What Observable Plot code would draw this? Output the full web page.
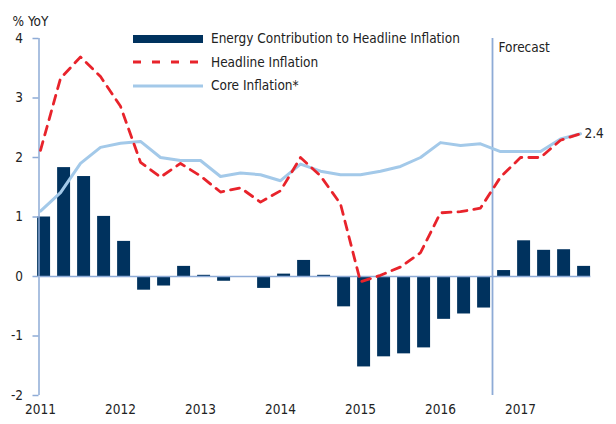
<!DOCTYPE html>
<html>
<head>
<meta charset="utf-8">
<script src="https://cdn.jsdelivr.net/npm/d3@7"></script>
<script src="https://cdn.jsdelivr.net/npm/@observablehq/plot@0.6"></script>
<style>
  body { margin: 0; background: #fff; }
  #wrap { position: relative; width: 616px; height: 424px; font-family: "Liberation Sans Narrow", "DejaVu Sans Condensed", "Roboto Condensed", "Liberation Sans", sans-serif; color: #222; }
  #legend { position: absolute; left: 133px; top: 27px; font-size: 13.5px; line-height: 23.5px; }
  #legend .row { display: flex; align-items: center; height: 23.5px; }
  #legend svg { margin-right: 8px; display: block; }
</style>
</head>
<body>
<div id="wrap"><div id="legend"></div></div>
<script>
const quarters = ["2011 Q1","2011 Q2","2011 Q3","2011 Q4","2012 Q1","2012 Q2","2012 Q3","2012 Q4",
  "2013 Q1","2013 Q2","2013 Q3","2013 Q4","2014 Q1","2014 Q2","2014 Q3","2014 Q4",
  "2015 Q1","2015 Q2","2015 Q3","2015 Q4","2016 Q1","2016 Q2","2016 Q3","2016 Q4",
  "2017 Q1","2017 Q2","2017 Q3","2017 Q4"];
const energy = [1.0, 1.83, 1.68, 1.01, 0.59, -0.23, -0.16, 0.17, 0.02, -0.08, 0, -0.2, 0.04, 0.27,
  0.02, -0.51, -1.52, -1.35, -1.30, -1.20, -0.72, -0.63, -0.53, 0.10, 0.60, 0.44, 0.45, 0.17];
const headline = [2.12, 3.33, 3.69, 3.36, 2.86, 1.92, 1.67, 1.9, 1.69, 1.42, 1.49, 1.25, 1.44, 2.0,
  1.69, 1.22, -0.09, 0.02, 0.16, 0.4, 1.07, 1.09, 1.15, 1.67, 2.0, 2.0, 2.29, 2.4];
const core = [1.1, 1.41, 1.9, 2.17, 2.24, 2.27, 2.0, 1.95, 1.95, 1.68, 1.74, 1.71, 1.61, 1.89,
  1.77, 1.71, 1.71, 1.77, 1.85, 2.0, 2.25, 2.2, 2.23, 2.1, 2.1, 2.1, 2.31, 2.4];
const yearTicks = [2011, 2012, 2013, 2014, 2015, 2016, 2017];
const yTicks = [-2, -1, 0, 1, 2, 3, 4];
const forecastStart = 2016.65;
const seriesNames = ["Energy Contribution to Headline Inflation", "Headline Inflation", "Core Inflation*"];

const navy = "#00325e", red = "#e8232b", lightBlue = "#a3c9e9", axisBlue = "#8eabd6";

const toT = q => +q.slice(0, 4) + (+q.slice(6) - 1) / 4;
const data = quarters.map((q, i) => ({q, t: toT(q), energy: energy[i], headline: headline[i], core: core[i]}));
const last = data[data.length - 1];

const chart = Plot.plot({
  width: 616,
  height: 424,
  marginLeft: 40,
  marginRight: 16,
  marginTop: 38,
  marginBottom: 29,
  style: {fontFamily: "inherit", fontSize: "13.5px", color: "#222", background: "#fff"},
  x: {domain: [2011, 2018], label: null},
  y: {domain: [-2, 4], label: null},
  marks: [
    Plot.rectY(data, {x1: d => d.t - 0.036, x2: d => d.t + 0.126, y1: 0, y2: "energy", fill: navy}),
    Plot.ruleY([0], {x1: 2011, x2: 2017.88, stroke: axisBlue, strokeWidth: 1.5}),
    Plot.ruleX([2011], {y1: -2, y2: 4, stroke: axisBlue, strokeWidth: 1.5, dx: -1.5}),
    Plot.ruleX([forecastStart], {y1: -2, y2: 4, stroke: axisBlue, strokeWidth: 1.8}),
    Plot.line(data, {x: "t", y: "core", stroke: lightBlue, strokeWidth: 3}),
    Plot.line(data, {x: "t", y: "headline", stroke: red, strokeWidth: 2.8, strokeDasharray: "9,7"}),
    Plot.axisY({ticks: yTicks, tickFormat: d => String(d), tickSize: 6, tickPadding: 10, dx: -1.5, stroke: axisBlue, color: "#222", strokeWidth: 1.5, label: null}),
    Plot.axisX({ticks: yearTicks, tickFormat: d => String(d), tickSize: 0, tickPadding: 9, label: null}),
    Plot.text([last], {x: "t", y: "core", text: d => String(d.core), textAnchor: "start", dx: 4, fill: "#222"}),
    Plot.text(["Forecast"], {x: forecastStart, y: 4, text: d => d, textAnchor: "start", dx: 6, dy: 9, fill: "#222"}),
    Plot.text(["% YoY"], {frameAnchor: "top-left", text: d => d, textAnchor: "start", dx: -28, dy: -22, fill: "#222"})
  ]
});
document.getElementById("wrap").prepend(chart);

const legend = document.getElementById("legend");
const sw = [
  `<svg width="70" height="10"><rect x="0" y="1" width="70" height="8" fill="${navy}"/></svg>`,
  `<svg width="70" height="10"><line x1="0" y1="5" x2="70" y2="5" stroke="${red}" stroke-width="2.8" stroke-dasharray="8,11"/></svg>`,
  `<svg width="70" height="10"><line x1="0" y1="5" x2="70" y2="5" stroke="${lightBlue}" stroke-width="3"/></svg>`
];
seriesNames.forEach((n, i) => {
  const r = document.createElement("div");
  r.className = "row";
  r.innerHTML = sw[i] + `<span>${n}</span>`;
  legend.appendChild(r);
});
</script>
</body>
</html>
